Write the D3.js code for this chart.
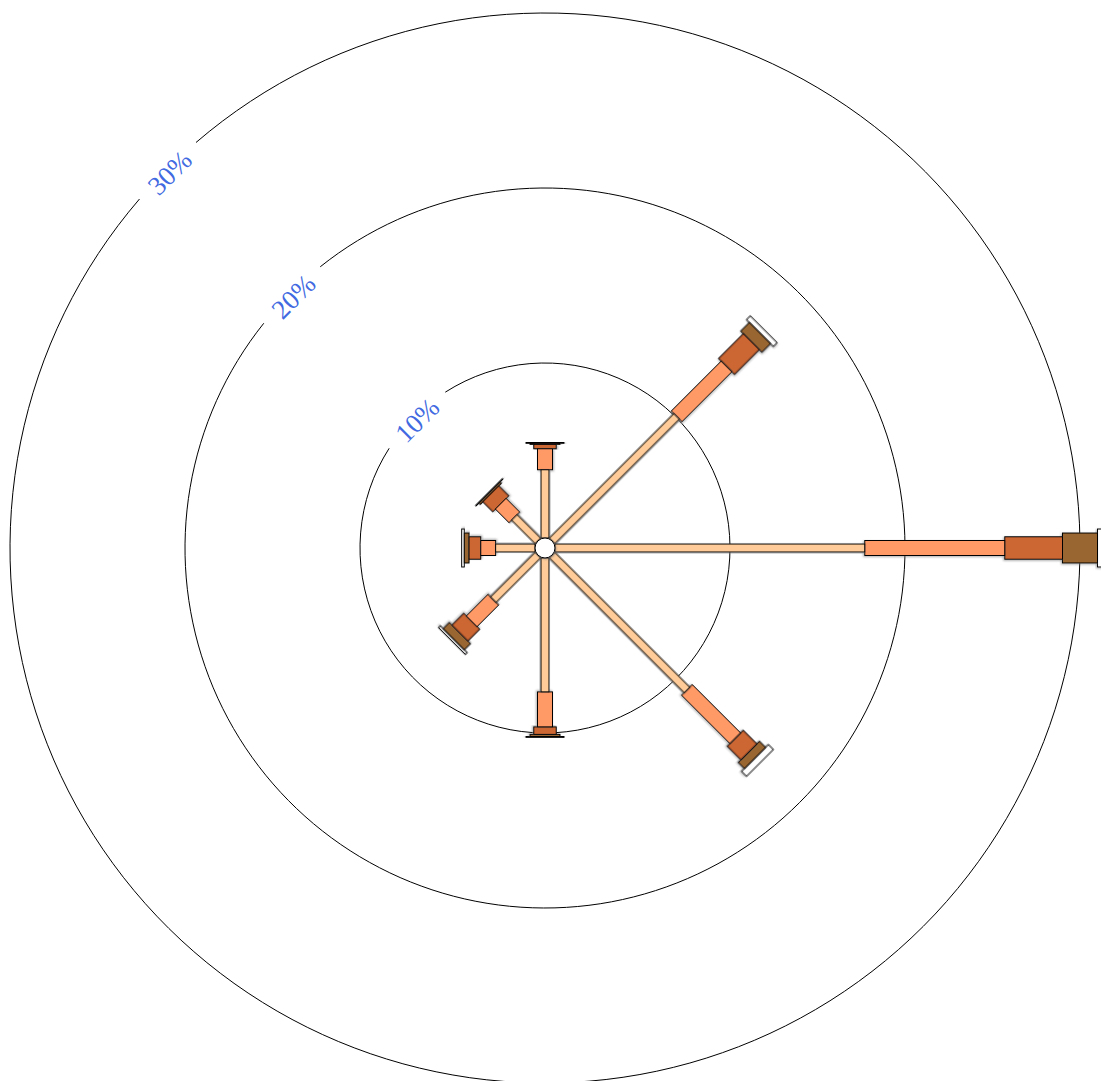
<!DOCTYPE html>
<html>
<head>
<meta charset="utf-8">
<script src="https://cdn.jsdelivr.net/npm/d3@7"></script>
<style>
  body { margin: 0; background: #fff; }
  svg { display: block; }
</style>
</head>
<body>
<div id="chart"></div>
<script>
var width = 1101, height = 1081;
var cx = 545, cy = 548;

// wind directions, clockwise from north
var directions = ["N", "NE", "E", "SE", "S", "SW", "W", "NW"];
var speedBins = ["0-2", "2-4", "4-6", "6-8", "8+"];
// percentage of time for each speed bin, per direction
var bin0 = [3.9, 10.06, 17.7, 10.9, 7.65, 3.6, 2.25, 1.9];
var bin1 = [1.2, 4.04, 8.0, 3.9, 2.0, 1.75, 0.85, 1.1];
var bin2 = [0.25, 2.0, 3.3, 1.1, 0.43, 0.95, 0.67, 0.8];
var bin3 = [0.06, 0.7, 2.0, 0.5, 0.12, 0.5, 0.27, 0.1];
var bin4 = [0.05, 0.3, 0.6, 0.4, 0.05, 0.15, 0.15, 0.05];
var ringTicks = [10, 20, 30];

var binColors = ["#FFCC99", "#FF9966", "#CC6633", "#996633", "#FFFFFF"];
var binWidths = [8, 15, 22.5, 30, 38];

var r = d3.scaleLinear().domain([0, 30]).range([10, 535]);
var angle = d3.scalePoint().domain(directions).range([0, 315]);

var svg = d3.select("#chart").append("svg")
    .attr("width", width).attr("height", height);

var defs = svg.append("defs");
var f = defs.append("filter").attr("id", "shadow")
    .attr("x", "-20%").attr("y", "-20%").attr("width", "140%").attr("height", "140%");
f.append("feDropShadow").attr("dx", 1).attr("dy", 1).attr("stdDeviation", 0.8)
    .attr("flood-color", "#777").attr("flood-opacity", 0.6);

var g = svg.append("g").attr("transform", "translate(" + cx + "," + cy + ")");

// rings with a gap for the label at NW
var gapPx = 80;
var labelAngle = -3 * Math.PI / 4;
ringTicks.forEach(function (t) {
    var rr = r(t), h = gapPx / 2 / rr;
    var p = d3.path();
    p.arc(0, 0, rr, labelAngle + h, labelAngle + 2 * Math.PI - h, false);
    g.append("path").attr("d", p.toString())
        .attr("fill", "none").attr("stroke", "#000").attr("stroke-width", 1);
    g.append("text")
        .attr("transform", "translate(" + (rr * Math.cos(labelAngle)) + "," + (rr * Math.sin(labelAngle)) + ") rotate(-45)")
        .attr("text-anchor", "middle")
        .attr("dy", "0.5em")
        .style("font-family", "'Liberation Serif', serif")
        .style("font-size", "27px")
        .style("fill", "royalblue")
        .text(t + "%");
});

// build stacked segments
var bins = [bin0, bin1, bin2, bin3, bin4];
var segments = [];
directions.forEach(function (d, i) {
    var acc = 0;
    bins.forEach(function (b, j) {
        segments.push({ dir: d, bin: j, start: acc, end: acc + b[i] });
        acc += b[i];
    });
});

var bars = g.append("g");
// draw outer bins first so that narrower bins sit on top
bars.selectAll("rect")
    .data(segments.slice().sort(function (a, b) { return b.bin - a.bin; }))
    .enter().append("rect")
    .attr("transform", function (d) { return "rotate(" + angle(d.dir) + ")"; })
    .attr("x", function (d) { return -binWidths[d.bin] / 2; })
    .attr("y", function (d) { return -r(d.end); })
    .attr("width", function (d) { return binWidths[d.bin]; })
    .attr("height", function (d) { return r(d.end) - r(d.start); })
    .attr("fill", function (d) { return binColors[d.bin]; })
    .attr("stroke", "#000").attr("stroke-width", 1)
    .attr("filter", "url(#shadow)");

g.append("circle").attr("r", r(0))
    .attr("fill", "#fff").attr("stroke", "#000").attr("stroke-width", 1)
    .attr("filter", "url(#shadow)");
</script>
</body>
</html>
